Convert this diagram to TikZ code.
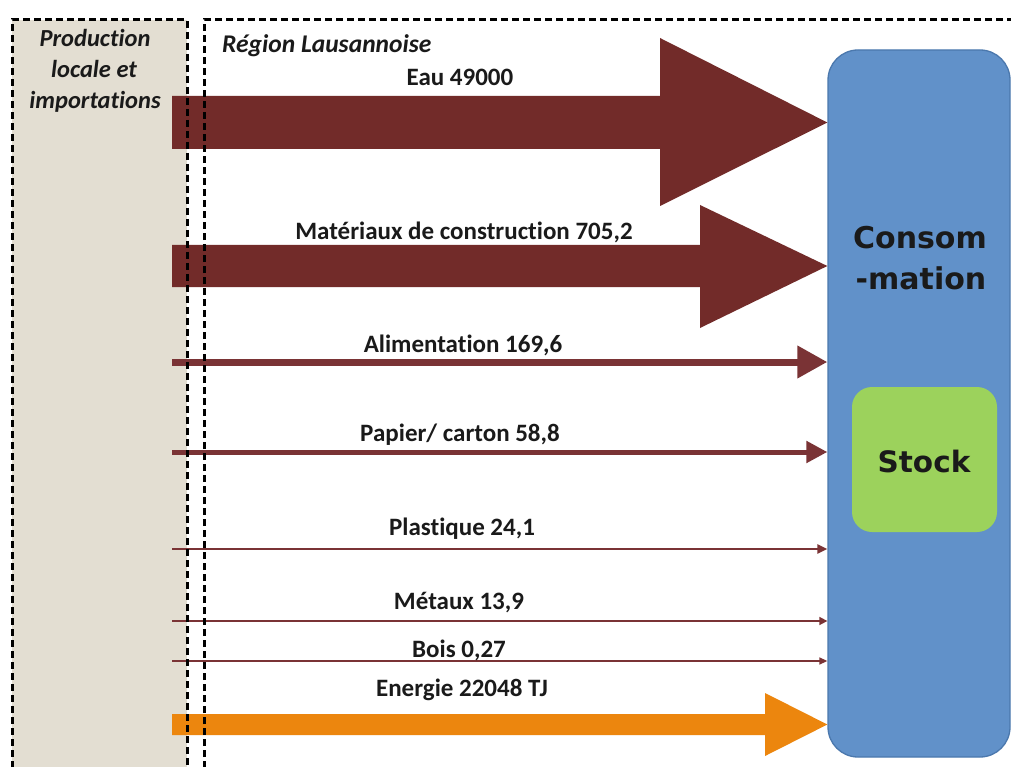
\documentclass[tikz,border=0pt]{standalone}
\usepackage{fontspec}
\setmainfont{Carlito}[Ligatures={NoCommon}]
\newfontfamily\verd{DejaVu Sans}
\usetikzlibrary{arrows.meta}
\definecolor{flow}{HTML}{722B29}
\definecolor{thinflow}{HTML}{7A3335}
\definecolor{consfill}{HTML}{6191C9}
\definecolor{consdraw}{HTML}{4B78AD}
\definecolor{stockfill}{HTML}{9CD25C}
\definecolor{beige}{HTML}{E3DED2}
\definecolor{energy}{HTML}{EC860E}
\definecolor{ink}{HTML}{1A1A1A}
\tikzset{
  regionline/.style={line width=3pt, dash pattern=on 7pt off 4pt, black},
  flowlabel/.style={anchor=base, text=ink, font=\bfseries\fontsize{25}{28}\selectfont, inner sep=0pt},
  titlelabel/.style={text=ink, font=\bfseries\itshape\fontsize{24.5}{31}\selectfont, inner sep=0pt},
  bigflow/.style={fill=flow},
  thinarrow/.style={draw=thinflow, line cap=butt},
}
\begin{document}
\begin{tikzpicture}[x=1pt,y=-1pt]
\useasboundingbox (0,0) rectangle (1011,767);
\fill[white] (0,0) rectangle (1011,767);
% left zone background
\fill[beige] (12,20) rectangle (187,790);

% start points of the flows
\coordinate (s1) at (172,122.5);
\coordinate (s2) at (172,266);
\coordinate (s3) at (172,362);
\coordinate (s4) at (172,452);
\coordinate (s5) at (172,549);
\coordinate (s6) at (172,621);
\coordinate (s7) at (172,661);
\coordinate (s8) at (172,724.5);

% consommation box
\node[draw=consdraw, line width=1.3pt, fill=consfill, rounded corners=30pt,
      minimum width=182pt, minimum height=707pt, inner sep=0pt] (cons) at (919,403.5) {};
\node[fill=stockfill, rounded corners=20pt, minimum width=145pt, minimum height=145pt,
      inner sep=0pt] (stock) at (924.5,459.5) {};
\node[anchor=base, inner sep=0pt, text=ink, font=\verd\bfseries\fontsize{29.5}{30}\selectfont] (stocklbl) at (924,472) {Stock};
\node[anchor=base, inner sep=0pt, text=ink, font=\verd\bfseries\fontsize{30}{30}\selectfont] (cons1) at (920,249) {Consom};
\node[anchor=base, inner sep=0pt, text=ink, font=\verd\bfseries\fontsize{30}{30}\selectfont] (cons2) at (921,289) {-mation};

\fill[bigflow] (s1) ++(0,-26.5) -- (660,96) -- (660,38) -- (cons.west |- s1) -- (660,206) -- (660,149) -- (172,149) -- cycle;
\fill[bigflow] (s2) ++(0,-21) -- (700,245) -- (700,205) -- (cons.west |- s2) -- (700,328) -- (700,287) -- (172,287) -- cycle;
\fill[energy] (s8) ++(0,-10.5) -- (765,714) -- (765,693) -- (cons.west |- s8) -- (765,756) -- (765,735) -- (172,735) -- cycle;

\draw[thinarrow, line width=7pt, -{Triangle[length=30pt, width=31pt]}] (s3) -- (cons.west |- s3);
\draw[thinarrow, line width=5pt, -{Triangle[length=21pt, width=21pt]}] (s4) -- (cons.west |- s4);
\draw[thinarrow, line width=2.4pt, -{Triangle[length=10pt, width=9pt]}] (s5) -- (cons.west |- s5);
\draw[thinarrow, line width=1.6pt, -{Triangle[length=8pt, width=8pt]}] (s6) -- (cons.west |- s6);
\draw[thinarrow, line width=1.4pt, -{Triangle[length=8pt, width=7pt]}] (s7) -- (cons.west |- s7);

% dashed zones
\begin{scope}
\clip (0,0) rectangle (1011,767);
\draw[regionline] (12,790) -- (12,20) -- (187,20) -- (187,790);
\draw[regionline] (204,790) -- (204,20) -- (1030,20);
\end{scope}

% titles
\node[titlelabel, anchor=base] (t1) at (95,47) {Production};
\node[titlelabel, anchor=base] (t2) at (94,78) {locale et};
\node[titlelabel, anchor=base] (t3) at (95,109) {importations};
\node[anchor=base west, inner sep=0pt, text=ink, font=\bfseries\itshape\fontsize{25.5}{27}\selectfont] (region) at (222,53) {Région Lausannoise};

% flow labels
\node[flowlabel] (l1) at (460,86) {Eau 49000};
\node[flowlabel] (l2) at (464,240) {Matériaux de construction 705,2};
\node[flowlabel] (l3) at (463,352) {Alimentation 169,6};
\node[flowlabel] (l4) at (460,441) {Papier/ carton 58,8};
\node[flowlabel] (l5) at (462,535) {Plastique 24,1};
\node[flowlabel] (l6) at (459,609) {Métaux 13,9};
\node[flowlabel] (l7) at (459,657) {Bois 0,27};
\node[flowlabel] (l8) at (462,696) {Energie 22048 TJ};
\end{tikzpicture}
\end{document}
